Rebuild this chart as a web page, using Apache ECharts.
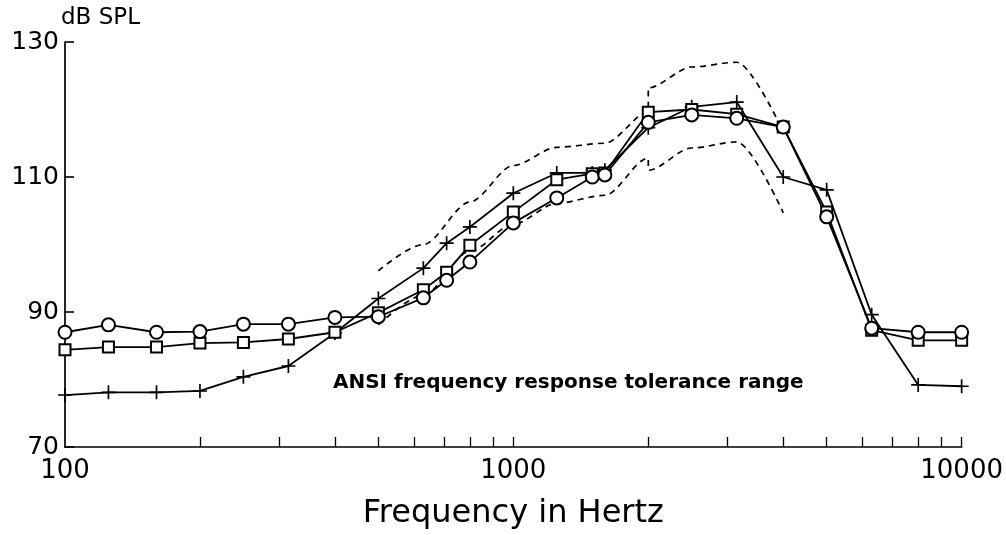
<!DOCTYPE html>
<html>
<head>
<meta charset="utf-8">
<script src="https://cdn.jsdelivr.net/npm/echarts@6/dist/echarts.min.js"></script>
<style>
html,body{margin:0;padding:0;background:#fff;}
#chart{width:1006px;height:535px;}
</style>
</head>
<body>
<div id="chart"></div>
<script>
// ---- data ----
const freqs = [100,125,160,200,250,315,400,500,630,710,800,1000,1250,1500,1600,2000,2500,3150,4000,5000,6300,8000,10000];
const circleValues = [87.0,88.1,87.0,87.1,88.2,88.2,89.2,89.3,92.1,94.7,97.4,103.2,106.9,110.0,110.3,118.1,119.2,118.7,117.4,104.1,87.6,87.0,87.0];
const squareValues = [84.4,84.8,84.8,85.4,85.5,86.0,87.0,89.9,93.3,95.9,99.9,104.8,109.6,110.5,110.6,119.6,120.0,119.3,117.4,104.8,87.3,85.8,85.8];
const plusValues   = [77.7,78.1,78.1,78.3,80.4,82.0,86.9,92.0,96.5,100.2,102.6,107.6,110.6,110.6,111.0,117.3,120.4,121.1,110.0,108.1,89.6,79.2,79.0];
const tolFreqs = [500,630,800,1000,1250,1600,2000,2000,2500,3150,4000];
const tolUpper = [96.1,100.0,106.3,111.7,114.4,115.0,119.6,123.2,126.3,127.0,116.7];
const tolLower = [88.1,92.5,99.0,103.0,106.1,107.3,112.8,111.0,114.3,115.2,104.7];
const xLabelValues = [100,1000,10000];
const xTickValues = [200,300,400,500,600,700,800,900,1000,2000,3000,4000,5000,6000,7000,8000,9000,10000];
const annotation = 'ANSI frequency response tolerance range';
const yName = 'dB SPL';
const xName = 'Frequency in Hertz';

function pairs(xs, ys){ return xs.map((x,i)=>[x, ys[i]]); }

const FONT = 'DejaVu Sans';
const plusPath = 'path://M0,4.4H10V5.6H0Z M4.4,0H5.6V10H4.4Z';

const chart = echarts.init(document.getElementById('chart'), null, {renderer:'canvas'});
const lineBase = {
  type:'line', smooth:false, showSymbol:true, animation:false,
  lineStyle:{color:'#000', width:1.8},
  emphasis:{disabled:true}
};
chart.setOption({
  backgroundColor:'#fff',
  animation:false,
  title:{
    text: annotation, left:333, top:373, padding:0,
    textStyle:{fontFamily:FONT, fontWeight:'bold', fontSize:20, color:'#000'}
  },
  grid:{left:65, right:44, top:42, bottom:88},
  xAxis:{
    type:'log', logBase:10, min:100, max:10000,
    name: xName, nameLocation:'middle', nameGap:51,
    nameTextStyle:{fontFamily:FONT, fontSize:32, color:'#000'},
    axisLine:{lineStyle:{color:'#000', width:1.7}},
    axisTick:{show:true, inside:true, length:10, lineStyle:{color:'#000', width:1.3}, customValues:xTickValues},
    axisLabel:{fontFamily:FONT, fontSize:26, color:'#000', margin:11, customValues:xLabelValues,
      formatter:function(v){ return String(Math.round(v)); }},
    splitLine:{show:false}, minorTick:{show:false}
  },
  yAxis:{
    type:'value', min:70, max:130, interval:20,
    name: yName, nameLocation:'end', nameGap:7,
    nameTextStyle:{fontFamily:FONT, fontSize:23, color:'#000', align:'left', padding:[0,0,0,-4]},
    axisLine:{show:true, lineStyle:{color:'#000', width:1.7}},
    axisTick:{show:true, inside:true, length:9, lineStyle:{color:'#000', width:1.6}},
    axisLabel:{fontFamily:FONT, fontSize:25, color:'#000', margin:6},
    splitLine:{show:false}
  },
  series:[
    Object.assign({}, lineBase, {
      name:'upper', data:pairs(tolFreqs, tolUpper), showSymbol:false, symbol:'none',
      smooth:0.3, smoothMonotone:'x',
      lineStyle:{color:'#000', width:1.7, type:[6,5]}
    }),
    Object.assign({}, lineBase, {
      name:'lower', data:pairs(tolFreqs, tolLower), showSymbol:false, symbol:'none',
      smooth:0.3, smoothMonotone:'x',
      lineStyle:{color:'#000', width:1.7, type:[6,5]}
    }),
    Object.assign({}, lineBase, {
      name:'plus', data:pairs(freqs, plusValues), symbol:plusPath, symbolSize:14,
      itemStyle:{color:'#000', borderWidth:0}
    }),
    Object.assign({}, lineBase, {
      name:'square', data:pairs(freqs, squareValues), symbol:'emptyRect', symbolSize:11,
      itemStyle:{color:'#000', borderColor:'#000', borderWidth:1.6}
    }),
    Object.assign({}, lineBase, {
      name:'circle', data:pairs(freqs, circleValues), symbol:'emptyCircle', symbolSize:13,
      itemStyle:{color:'#000', borderColor:'#000', borderWidth:1.6}
    })
  ]
});
</script>
</body>
</html>
